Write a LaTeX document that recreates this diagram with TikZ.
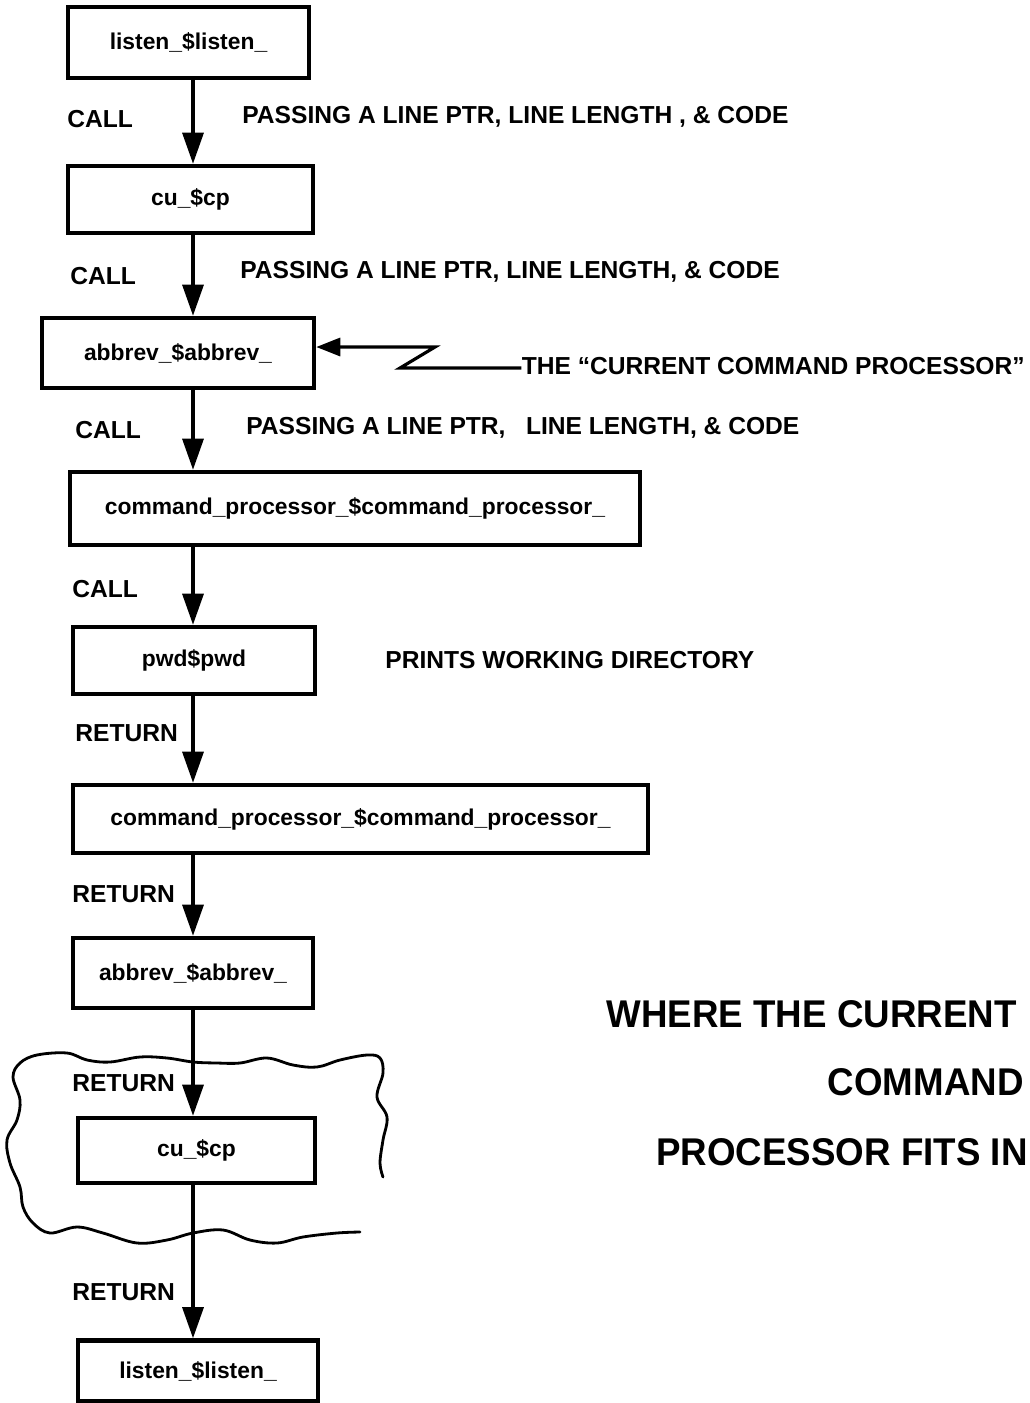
\documentclass[tikz,border=0pt]{standalone}
\usepackage{fontspec}
\setmainfont{Liberation Sans}
\newfontfamily\condfont[FakeStretch=0.95]{Liberation Sans}
\usetikzlibrary{arrows.meta, calc}
\tikzset{
	blk/.style      ={rectangle, draw=black, line width=2.6pt, inner sep=0pt, align=center, font=\bfseries\fontsize{13}{15}\selectfont},
	lbl/.style      ={anchor=west, inner sep=0pt, font=\bfseries\fontsize{14}{16}\selectfont},
	flowarrow/.style={-{Triangle[length=0.62cm, width=0.42cm]}, line width=1.8pt},
	% the wavy outline round the last call
	cloudline/.style={line width=1.6pt, line cap=round, line join=round},
}
\begin{document}
\begin{tikzpicture}[x=0.02cm, y=-0.02cm,
			big/.style={anchor=east, inner sep=0pt, font=\condfont\bfseries\fontsize{22}{26}\selectfont}]
			\useasboundingbox (0,0) rectangle (1030,1403);
			\coordinate (ax) at (193,0);
			% call chain
			\node[blk, minimum width=4.82cm, minimum height=1.42cm] (lis1) at (188.5,42.5) {listen\_\$listen\_};
			\node[blk, minimum width=4.90cm, minimum height=1.34cm] (cu1) at (190.5,199.5) {cu\_\$cp};
			\node[blk, minimum width=5.44cm, minimum height=1.40cm] (abb1) at (178,353) {abbrev\_\$abbrev\_};
			\node[blk, minimum width=11.4cm, minimum height=1.46cm] (cmd1) at (355,508.5) {command\_processor\_\$command\_processor\_};
			\node[blk, minimum width=4.84cm, minimum height=1.34cm] (pwd) at (194,660.5) {pwd\$pwd};
			% return chain
			\node[blk, minimum width=11.5cm, minimum height=1.36cm] (cmd2) at (360.5,819) {command\_processor\_\$command\_processor\_};
			\node[blk, minimum width=4.80cm, minimum height=1.40cm] (abb2) at (193,973) {abbrev\_\$abbrev\_};
			\node[blk, minimum width=4.74cm, minimum height=1.30cm] (cu2) at (196.5,1150.5) {cu\_\$cp};
			\node[blk, minimum width=4.80cm, minimum height=1.22cm] (lis2) at (198,1371) {listen\_\$listen\_};
			\draw[flowarrow] (lis1.south -| ax) -- (cu1.north -| ax);
			\draw[flowarrow] (cu1.south -| ax) -- (abb1.north -| ax);
			\draw[flowarrow] (abb1.south -| ax) -- (cmd1.north -| ax);
			\draw[flowarrow] (cmd1.south -| ax) -- (pwd.north -| ax);
			\draw[flowarrow] (pwd.south -| ax) -- (cmd2.north -| ax);
			\draw[flowarrow] (cmd2.south -| ax) -- (abb2.north -| ax);
			\draw[flowarrow] (abb2.south -| ax) -- (cu2.north -| ax);
			\draw[flowarrow] (cu2.south -| ax) -- (lis2.north -| ax);
			% labels beside the arrows
			\node[lbl] (call1) at (67,119) {CALL};
			\node[lbl] (pass1) at (242,117) {PASSING A LINE PTR, LINE LENGTH\ , \& CODE};
			\node[lbl] (call2) at (70,276) {CALL};
			\node[lbl] (pass2) at (240,272) {PASSING A LINE PTR, LINE LENGTH, \& CODE};
			\node[lbl] (call3) at (75,430) {CALL};
			\node[lbl] (pass3) at (246,428) {PASSING A LINE PTR,\ \ \ LINE LENGTH, \& CODE};
			\node[lbl] (call4) at (72,589) {CALL};
			\node[lbl] (prints) at (385,660) {PRINTS WORKING DIRECTORY};
			\node[lbl] (ret1) at (75,733) {RETURN};
			\node[lbl] (ret2) at (72,894) {RETURN};
			\node[lbl] (ret3) at (72,1083) {RETURN};
			\node[lbl] (ret4) at (72,1292) {RETURN};
			% pointer to the current command processor
			\node[lbl, anchor=east] (ccp) at (1025,366) {THE “CURRENT COMMAND PROCESSOR”};
			\coordinate (ztop) at (435,347);
			\coordinate (zbot) at (400,368);
			\draw[flowarrow, -{Triangle[length=0.48cm, width=0.36cm]}] (zbot -| ccp.west) -- (zbot) -- (ztop) -- (ztop -| abb1.east);
			% wavy outline
			\draw[cloudline] plot[smooth, tension=0.6] coordinates {
				(383,1177) (380,1163) (383,1140) (387,1117) (377,1097) (383,1073) (380,1058)
				(367,1055) (340,1060) (317,1067) (293,1065) (267,1058) (240,1063) (217,1063)
				(193,1062) (167,1058) (140,1057) (110,1062) (87,1060) (67,1053) (37,1055) (20,1063)
				(13,1077) (20,1100) (17,1120) (7,1140) (10,1163) (20,1187) (23,1207) (33,1223)
				(50,1233) (77,1227) (103,1233) (137,1243) (167,1240) (193,1233) (223,1230)
				(250,1240) (277,1243) (303,1237) (337,1233) (360,1232)};
			% caption
			\node[big] (cap1) at (1017,1014) {WHERE THE CURRENT};
			\node[big] (cap2) at (1024,1082) {COMMAND};
			\node[big] (cap3) at (1028,1152) {PROCESSOR FITS IN};
		\end{tikzpicture}
\end{document}
